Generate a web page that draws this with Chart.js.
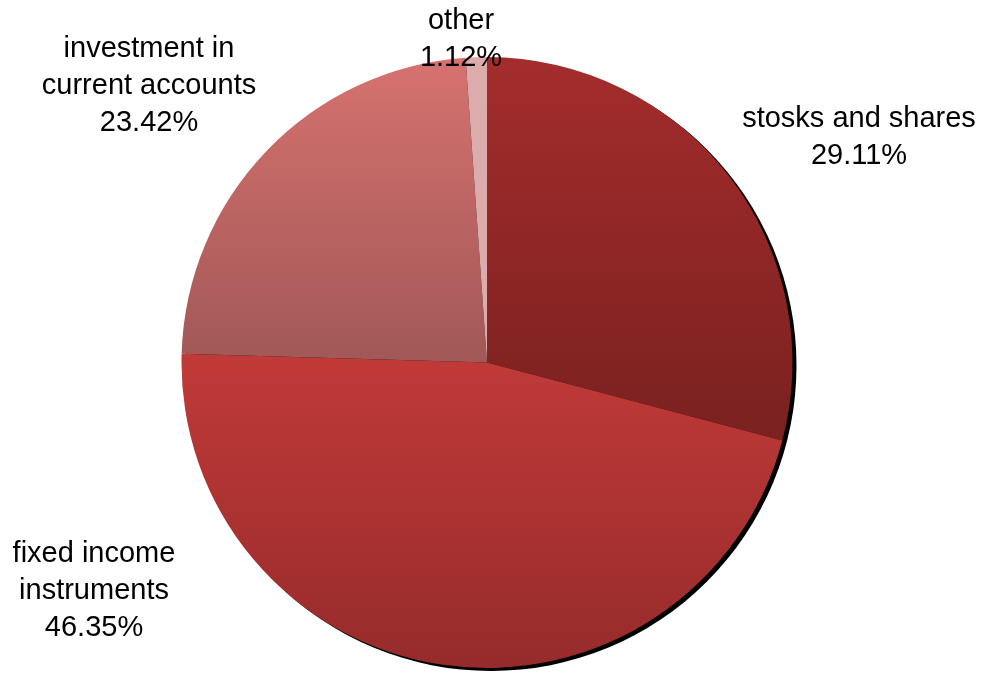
<!DOCTYPE html>
<html><head><meta charset="utf-8">
<script src="https://cdn.jsdelivr.net/npm/chart.js@4.4.1/dist/chart.umd.min.js"></script>
<style>html,body{margin:0;padding:0;background:#fff}#w{width:984px;height:673px}</style>
</head><body><div id="w"><canvas id="c"></canvas></div>
<script>
const categories = ["stosks and shares", "fixed income instruments", "investment in current accounts", "other"];
const labelLines = [["stosks and shares"], ["fixed income", "instruments"], ["investment in", "current accounts"], ["other"]];
const values = [29.11, 46.35, 23.42, 1.12];

const gradTop = ["#a42c2c", "#c13a38", "#d6726f", "#dcabac"];
const gradBottom = ["#7a2120", "#962b2b", "#a15857", "#dcabac"];
// label centres (x, y of first line) in canvas pixels
const labelPos = [[859, 119], [94, 554], [149, 49], [461, 21]];

const shadowPlugin = {
  id: 'shadowGrad',
  beforeDatasetsDraw(chart) {
    const meta = chart.getDatasetMeta(0);
    const ctx = chart.ctx;
    const a0 = meta.data[0];
    ctx.save();
    ctx.fillStyle = '#000';
    ctx.beginPath();
    ctx.arc(a0.x + 4, a0.y + 3, a0.outerRadius, 0, Math.PI * 2);
    ctx.fill();
    ctx.restore();
    meta.data.forEach((arc, i) => {
      const ys = [arc.y, arc.y + arc.outerRadius * Math.sin(arc.startAngle), arc.y + arc.outerRadius * Math.sin(arc.endAngle)];
      for (let k = -4; k <= 8; k++) {
        const t = k * Math.PI / 2;
        if (t > arc.startAngle && t < arc.endAngle) ys.push(arc.y + arc.outerRadius * Math.sin(t));
      }
      const y0 = Math.min(...ys), y1 = Math.max(...ys);
      const g = ctx.createLinearGradient(0, y0, 0, y1);
      g.addColorStop(0, gradTop[i]);
      g.addColorStop(1, gradBottom[i]);
      arc.options.backgroundColor = g;
    });
  },
  afterDraw(chart) {
    const ctx = chart.ctx;
    ctx.save();
    ctx.fillStyle = '#000';
    ctx.font = '29px "Liberation Sans", Arial, sans-serif';
    ctx.textAlign = 'center';
    ctx.textBaseline = 'middle';
    const lh = 37;
    labelLines.forEach((lines, i) => {
      const all = lines.concat([values[i].toFixed(2) + '%']);
      all.forEach((t, j) => ctx.fillText(t, labelPos[i][0], labelPos[i][1] + j * lh));
    });
    ctx.restore();
  }
};

new Chart(document.getElementById('c'), {
  type: 'pie',
  data: { labels: categories, datasets: [{ data: values, backgroundColor: gradTop, borderWidth: 0, hoverOffset: 0 }] },
  options: {
    responsive: true, maintainAspectRatio: false, animation: false,
    layout: { padding: { top: 57, bottom: 5, left: 0, right: 10 } },
    plugins: { legend: { display: false }, tooltip: { enabled: false } }
  },
  plugins: [shadowPlugin]
});
</script></body></html>
